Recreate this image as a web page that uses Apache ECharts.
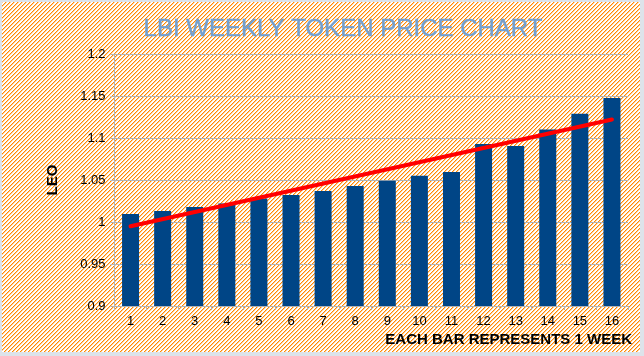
<!DOCTYPE html>
<html><head><meta charset="utf-8">
<script src="https://cdn.jsdelivr.net/npm/echarts@6/dist/echarts.min.js"></script>
<style>html,body{margin:0;padding:0;background:#dde3ea;}#c{width:644px;height:356px;}</style>
</head><body><div id="c"></div>
<script>
const weeks = ['1','2','3','4','5','6','7','8','9','10','11','12','13','14','15','16'];
const prices = [1.0095,1.013,1.018,1.022,1.028,1.032,1.037,1.043,1.049,1.055,1.0595,1.093,1.0905,1.110,1.129,1.1476];
const trendStart = 0.995;
const trendEnd = 1.122;
const yTicks = [0.9, 0.95, 1, 1.05, 1.1, 1.15, 1.2];

const trend = weeks.map((w,i)=> i===0 ? trendStart : (i===weeks.length-1 ? trendEnd : null));

// hatch pattern
const pc = document.createElement('canvas');
pc.width = 4; pc.height = 4;
const pctx = pc.getContext('2d');
pctx.fillStyle = '#ffffff'; pctx.fillRect(0,0,4,4);
pctx.fillStyle = '#ff8800';
for (let i=0;i<4;i++){ pctx.fillRect(i,3-i,1,1); }
pctx.fillStyle = 'rgba(255,136,0,0.4)';
for (let i=0;i<4;i++){ pctx.fillRect(i,(4-i)%4,1,1); }

const sans = '"Liberation Sans",Arial,sans-serif';
const chart = echarts.init(document.getElementById('c'));
chart.setOption({
  backgroundColor: '#dde3ea',
  animation: false,
  graphic: [{
    type: 'rect', z: -10, silent: true,
    shape: {x: 2, y: 2, width: 638, height: 350},
    style: {fill: {image: pc, repeat: 'repeat'}}
  }],
  title: {
    text: 'LBI WEEKLY TOKEN PRICE CHART',
    left: 338, top: 12, textAlign: 'center',
    textStyle: {color: '#729fcf', fontSize: 24, fontWeight: 'normal', fontFamily: sans,
      textBorderColor: '#729fcf', textBorderWidth: 0.4}
  },
  grid: {left: 114.5, right: 16, top: 54, bottom: 50},
  xAxis: {
    type: 'category', data: weeks,
    name: 'EACH BAR REPRESENTS 1 WEEK', nameLocation: 'end',
    nameGap: 0,
    nameTextStyle: {color: '#000', fontSize: 15, fontWeight: 'bold', fontFamily: sans,
      align: 'right', verticalAlign: 'top', padding: [26, -4, 0, 0]},
    axisLine: {lineStyle: {color: '#b3b3b3'}},
    axisTick: {show: true, length: 4, lineStyle: {color: '#b3b3b3'}},
    axisLabel: {color: '#000', fontSize: 13, fontFamily: sans, margin: 9}
  },
  yAxis: {
    type: 'value', min: 0.9, max: 1.2, interval: 0.05,
    name: 'LEO', nameLocation: 'middle', nameGap: 54, nameRotate: 90,
    nameTextStyle: {color: '#000', fontSize: 15, fontWeight: 'bold', fontFamily: sans},
    axisLine: {show: true, lineStyle: {color: '#b3b3b3'}},
    axisTick: {show: true, length: 4, lineStyle: {color: '#b3b3b3'}},
    splitLine: {lineStyle: {color: '#b3b3b3'}},
    axisLabel: {color: '#000', fontSize: 13, fontFamily: sans, margin: 9,
      formatter: v => { const t = yTicks.find(x => Math.abs(x - v) < 1e-9); return String(t !== undefined ? t : v); }}
  },
  series: [{
    type: 'bar', data: prices, barWidth: 17,
    itemStyle: {color: '#004586'}
  }, {
    type: 'line', data: trend, connectNulls: true, symbol: 'none',
    lineStyle: {color: '#ff0000', width: 4, cap: 'round'}, z: 5
  }]
});
</script></body></html>
